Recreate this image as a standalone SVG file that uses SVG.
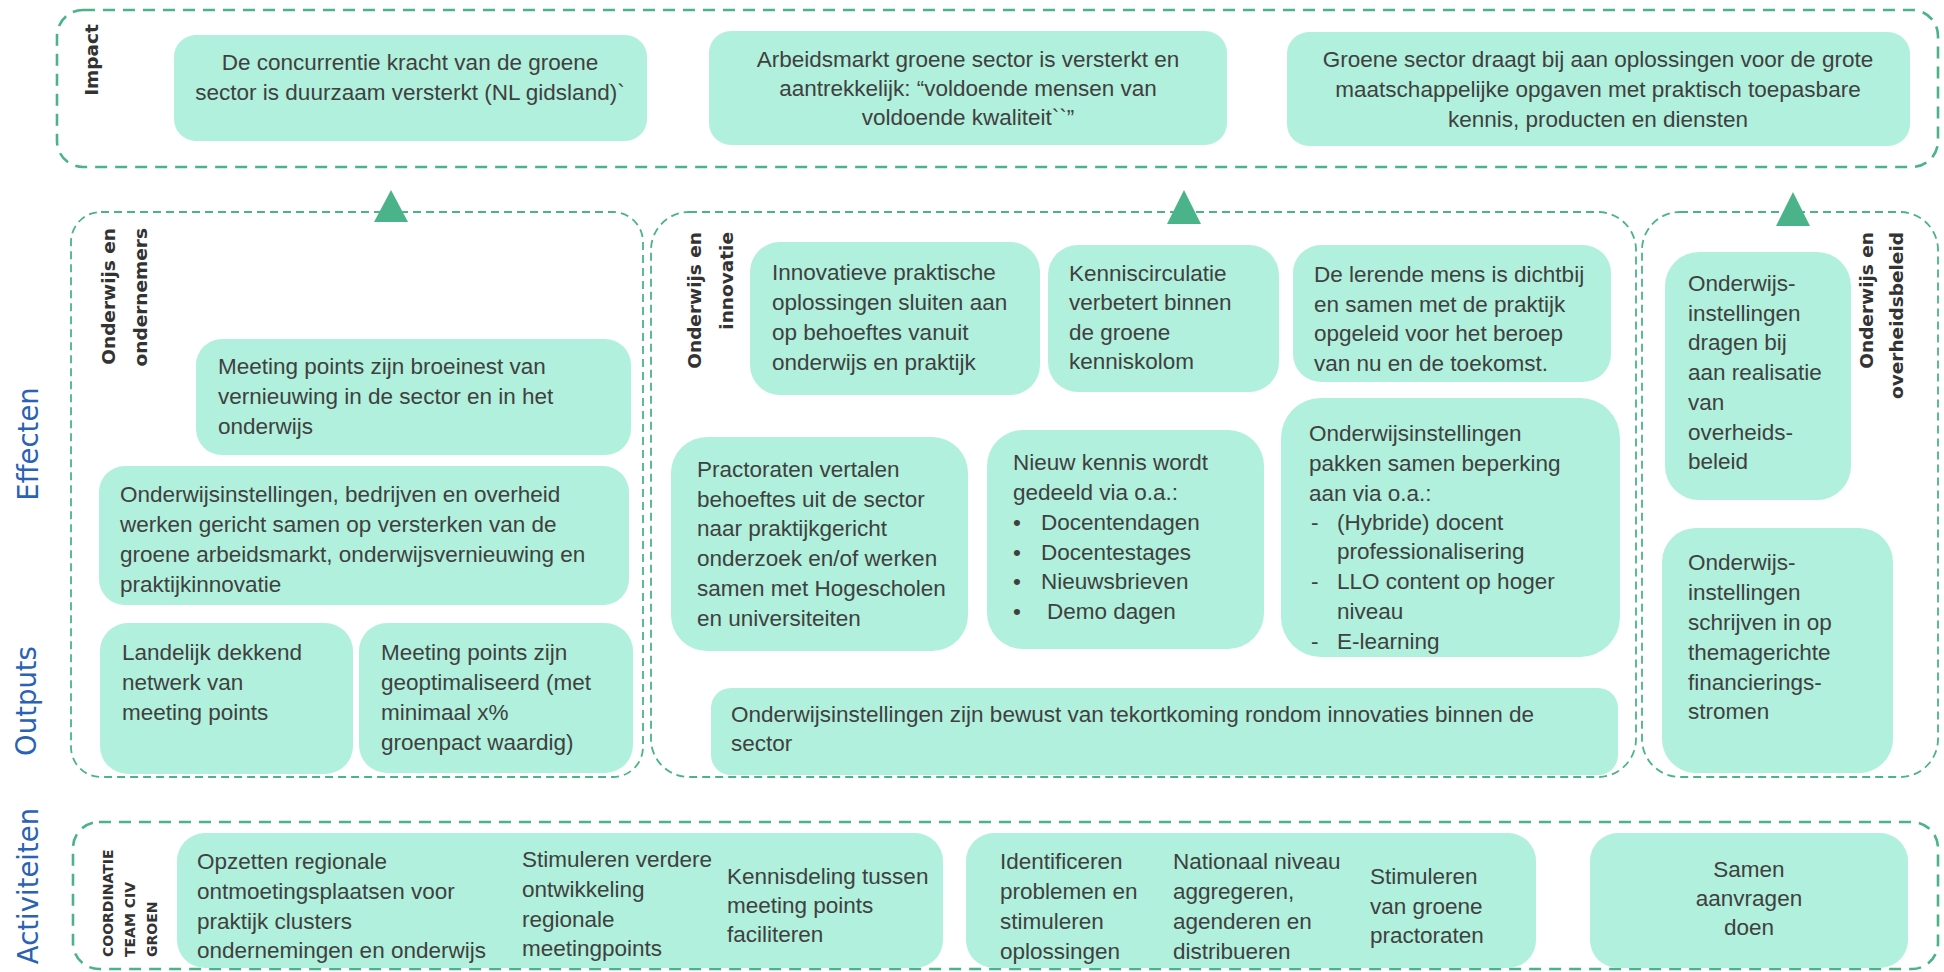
<svg xmlns="http://www.w3.org/2000/svg" width="1944" height="972" viewBox="0 0 1944 972">
<style>
.bg{fill:#ffffff}
.cont{fill:none;stroke:#4AB487;stroke-width:2.6;stroke-dasharray:12 8}
.cont2{fill:none;stroke:#4AB487;stroke-width:1.8;stroke-dasharray:8 5}
.box{fill:#B0F0DC}
.t{font-family:"Liberation Sans",Arial,sans-serif;font-size:22.5px;fill:#404040}
.c{text-anchor:middle}
.lbl{font-family:"DejaVu Sans",Verdana,sans-serif;font-weight:bold;font-size:18.5px;fill:#333333}
.sm{font-family:"DejaVu Sans",Verdana,sans-serif;font-weight:bold;font-size:14px;fill:#333333}
.blue{font-family:"DejaVu Sans",Verdana,sans-serif;font-size:27.5px;fill:#2A62B4;text-anchor:middle}
.tri{fill:#4BB38A}
</style>
<rect class="bg" x="0" y="0" width="1944" height="972"/>

<!-- side labels -->
<text class="blue" transform="translate(38,444) rotate(-90)">Effecten</text>
<text class="blue" transform="translate(36,701) rotate(-90)">Outputs</text>
<text class="blue" transform="translate(38,886) rotate(-90)">Activiteiten</text>

<!-- containers -->
<g id="impact">
<rect class="cont" x="57" y="10" width="1881" height="157" rx="26"/>
<text class="lbl" text-anchor="middle" transform="translate(98,60) rotate(-90)">Impact</text>
</g>
<g id="grp-ondernemers">
<rect class="cont2" x="71" y="212" width="572" height="565" rx="30"/>
<text class="lbl" text-anchor="end" transform="translate(115,228) rotate(-90)">Onderwijs en</text>
<text class="lbl" text-anchor="end" transform="translate(147,228) rotate(-90)">ondernemers</text>
</g>
<g id="grp-innovatie">
<rect class="cont2" x="651" y="212" width="985" height="565" rx="38"/>
<text class="lbl" text-anchor="end" transform="translate(701,232) rotate(-90)">Onderwijs en</text>
<text class="lbl" text-anchor="end" transform="translate(733,232) rotate(-90)">innovatie</text>
</g>
<g id="grp-overheid">
<rect class="cont2" x="1642" y="212" width="296" height="565" rx="38"/>
<text class="lbl" text-anchor="end" transform="translate(1873,232) rotate(-90)">Onderwijs en</text>
<text class="lbl" text-anchor="end" transform="translate(1903,232) rotate(-90)">overheidsbeleid</text>
</g>
<g id="activiteiten">
<rect class="cont" x="73" y="822" width="1865" height="147" rx="26"/>
<text class="sm" transform="translate(113,957) rotate(-90)">COORDINATIE</text>
<text class="sm" transform="translate(135,957) rotate(-90)">TEAM CIV</text>
<text class="sm" transform="translate(157,957) rotate(-90)">GROEN</text>
</g>

<!-- impact boxes -->
<g id="impact1">
<rect class="box" x="174" y="35" width="473" height="106" rx="22"/>
<text class="t c"><tspan x="410" y="70">De concurrentie kracht van de groene</tspan><tspan x="410" y="100">sector is duurzaam versterkt (NL gidsland)`</tspan></text>
</g>
<g id="impact2">
<rect class="box" x="709" y="31" width="518" height="114" rx="22"/>
<text class="t c"><tspan x="968" y="67">Arbeidsmarkt groene sector is versterkt en</tspan><tspan x="968" y="96">aantrekkelijk: “voldoende mensen van</tspan><tspan x="968" y="125">voldoende kwaliteit``”</tspan></text>
</g>
<g id="impact3">
<rect class="box" x="1287" y="32" width="623" height="114" rx="22"/>
<text class="t c"><tspan x="1598" y="67">Groene sector draagt bij aan oplossingen voor de grote</tspan><tspan x="1598" y="97">maatschappelijke opgaven met praktisch toepasbare</tspan><tspan x="1598" y="127">kennis, producten en diensten</tspan></text>
</g>

<!-- left group boxes -->
<g id="eff-meetingpoints">
<rect class="box" x="196" y="339" width="435" height="116" rx="26"/>
<text class="t"><tspan x="218" y="374">Meeting points zijn broeinest van</tspan><tspan x="218" y="404">vernieuwing in de sector en in het</tspan><tspan x="218" y="434">onderwijs</tspan></text>
</g>
<g id="eff-samenwerking">
<rect class="box" x="99" y="466" width="530" height="139" rx="26"/>
<text class="t"><tspan x="120" y="502">Onderwijsinstellingen, bedrijven en overheid</tspan><tspan x="120" y="532">werken gericht samen op versterken van de</tspan><tspan x="120" y="562">groene arbeidsmarkt, onderwijsvernieuwing en</tspan><tspan x="120" y="592">praktijkinnovatie</tspan></text>
</g>
<g id="out-netwerk">
<rect class="box" x="100" y="623" width="253" height="151" rx="28"/>
<text class="t"><tspan x="122" y="660">Landelijk dekkend</tspan><tspan x="122" y="690">netwerk van</tspan><tspan x="122" y="720">meeting points</tspan></text>
</g>
<g id="out-geoptimaliseerd">
<rect class="box" x="359" y="623" width="274" height="150" rx="28"/>
<text class="t"><tspan x="381" y="660">Meeting points zijn</tspan><tspan x="381" y="690">geoptimaliseerd (met</tspan><tspan x="381" y="720">minimaal x%</tspan><tspan x="381" y="750">groenpact waardig)</tspan></text>
</g>

<!-- middle group boxes -->
<g id="eff-innovatief">
<rect class="box" x="750" y="242" width="290" height="153" rx="30"/>
<text class="t"><tspan x="772" y="280">Innovatieve praktische</tspan><tspan x="772" y="310">oplossingen sluiten aan</tspan><tspan x="772" y="340">op behoeftes vanuit</tspan><tspan x="772" y="370">onderwijs en praktijk</tspan></text>
</g>
<g id="eff-kenniscirculatie">
<rect class="box" x="1048" y="245" width="231" height="147" rx="30"/>
<text class="t"><tspan x="1069" y="281">Kenniscirculatie</tspan><tspan x="1069" y="310">verbetert binnen</tspan><tspan x="1069" y="340">de groene</tspan><tspan x="1069" y="369">kenniskolom</tspan></text>
</g>
<g id="eff-lerende-mens">
<rect class="box" x="1293" y="245" width="318" height="137" rx="28"/>
<text class="t"><tspan x="1314" y="282">De lerende mens is dichtbij</tspan><tspan x="1314" y="312">en samen met de praktijk</tspan><tspan x="1314" y="341">opgeleid voor het beroep</tspan><tspan x="1314" y="371">van nu en de toekomst.</tspan></text>
</g>
<g id="out-practoraten">
<rect class="box" x="671" y="437" width="297" height="214" rx="36"/>
<text class="t"><tspan x="697" y="477">Practoraten vertalen</tspan><tspan x="697" y="507">behoeftes uit de sector</tspan><tspan x="697" y="536">naar praktijkgericht</tspan><tspan x="697" y="566">onderzoek en/of werken</tspan><tspan x="697" y="596">samen met Hogescholen</tspan><tspan x="697" y="626">en universiteiten</tspan></text>
</g>
<g id="out-kennis-gedeeld">
<rect class="box" x="987" y="430" width="277" height="219" rx="36"/>
<text class="t"><tspan x="1013" y="470">Nieuw kennis wordt</tspan><tspan x="1013" y="500">gedeeld via o.a.:</tspan><tspan x="1013" y="530">•</tspan><tspan x="1041" y="530">Docentendagen</tspan><tspan x="1013" y="560">•</tspan><tspan x="1041" y="560">Docentestages</tspan><tspan x="1013" y="589">•</tspan><tspan x="1041" y="589">Nieuwsbrieven</tspan><tspan x="1013" y="619">•</tspan><tspan x="1047" y="619">Demo dagen</tspan></text>
</g>
<g id="out-beperking">
<rect class="box" x="1281" y="398" width="339" height="259" rx="40"/>
<text class="t"><tspan x="1309" y="441">Onderwijsinstellingen</tspan><tspan x="1309" y="471">pakken samen beperking</tspan><tspan x="1309" y="501">aan via o.a.:</tspan><tspan x="1311" y="530">-</tspan><tspan x="1337" y="530">(Hybride) docent</tspan><tspan x="1337" y="559">professionalisering</tspan><tspan x="1311" y="589">-</tspan><tspan x="1337" y="589">LLO content op hoger</tspan><tspan x="1337" y="619">niveau</tspan><tspan x="1311" y="649">-</tspan><tspan x="1337" y="649">E-learning</tspan></text>
</g>
<g id="out-bewust">
<rect class="box" x="711" y="688" width="907" height="87" rx="20"/>
<text class="t"><tspan x="731" y="722">Onderwijsinstellingen zijn bewust van tekortkoming rondom innovaties binnen de</tspan><tspan x="731" y="751">sector</tspan></text>
</g>

<!-- right group boxes -->
<g id="eff-overheidsbeleid">
<rect class="box" x="1665" y="252" width="186" height="248" rx="34"/>
<text class="t"><tspan x="1688" y="291">Onderwijs-</tspan><tspan x="1688" y="321">instellingen</tspan><tspan x="1688" y="350">dragen bij</tspan><tspan x="1688" y="380">aan realisatie</tspan><tspan x="1688" y="410">van</tspan><tspan x="1688" y="440">overheids-</tspan><tspan x="1688" y="469">beleid</tspan></text>
</g>
<g id="out-financiering">
<rect class="box" x="1662" y="528" width="231" height="245" rx="34"/>
<text class="t"><tspan x="1688" y="570">Onderwijs-</tspan><tspan x="1688" y="600">instellingen</tspan><tspan x="1688" y="630">schrijven in op</tspan><tspan x="1688" y="660">themagerichte</tspan><tspan x="1688" y="690">financierings-</tspan><tspan x="1688" y="719">stromen</tspan></text>
</g>

<!-- activity boxes -->
<g id="act-meetingpoints">
<rect class="box" x="177" y="833" width="766" height="135" rx="28"/>
<text class="t"><tspan x="197" y="869">Opzetten regionale</tspan><tspan x="197" y="899">ontmoetingsplaatsen voor</tspan><tspan x="197" y="929">praktijk clusters</tspan><tspan x="197" y="958">ondernemingen en onderwijs</tspan></text>
<text class="t"><tspan x="522" y="867">Stimuleren verdere</tspan><tspan x="522" y="897">ontwikkeling</tspan><tspan x="522" y="927">regionale</tspan><tspan x="522" y="956">meetingpoints</tspan></text>
<text class="t"><tspan x="727" y="884">Kennisdeling tussen</tspan><tspan x="727" y="913">meeting points</tspan><tspan x="727" y="942">faciliteren</tspan></text>
</g>
<g id="act-kennis">
<rect class="box" x="966" y="833" width="570" height="135" rx="28"/>
<text class="t"><tspan x="1000" y="869">Identificeren</tspan><tspan x="1000" y="899">problemen en</tspan><tspan x="1000" y="929">stimuleren</tspan><tspan x="1000" y="959">oplossingen</tspan></text>
<text class="t"><tspan x="1173" y="869">Nationaal niveau</tspan><tspan x="1173" y="899">aggregeren,</tspan><tspan x="1173" y="929">agenderen en</tspan><tspan x="1173" y="959">distribueren</tspan></text>
<text class="t"><tspan x="1370" y="884">Stimuleren</tspan><tspan x="1370" y="914">van groene</tspan><tspan x="1370" y="943">practoraten</tspan></text>
</g>
<g id="act-aanvragen">
<rect class="box" x="1590" y="833" width="318" height="135" rx="28"/>
<text class="t c"><tspan x="1749" y="877">Samen</tspan><tspan x="1749" y="906">aanvragen</tspan><tspan x="1749" y="935">doen</tspan></text>
</g>

<!-- connectors (arrowheads toward impact) -->
<g id="connectors">
<polygon class="tri" points="391,190 408,222 374,222"/>
<polygon class="tri" points="1184,190 1201,224 1167,224"/>
<polygon class="tri" points="1793,192 1810,226 1776,226"/>
</g>
</svg>
